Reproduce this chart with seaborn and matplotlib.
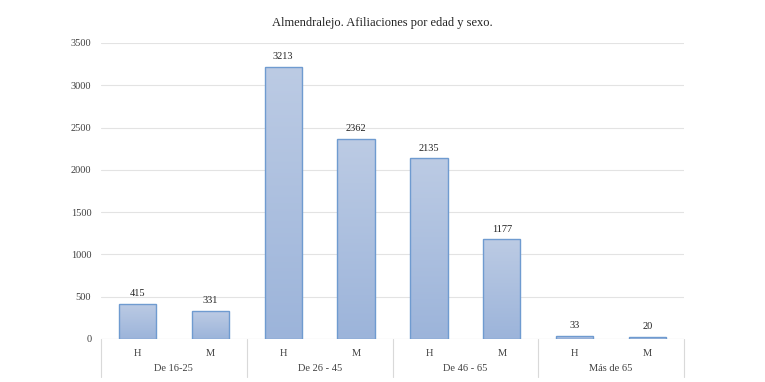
import numpy as np
import pandas as pd
import seaborn as sns
import matplotlib.pyplot as plt
from matplotlib.colors import LinearSegmentedColormap

# --- datos ---
grupos = ["De 16-25", "De 26 - 45", "De 46 - 65", "Más de 65"]
sexos = ["H", "M"]
afiliaciones = [415, 331, 3213, 2362, 2135, 1177, 33, 20]

df = pd.DataFrame({
    "grupo": np.repeat(grupos, 2),
    "sexo": sexos * len(grupos),
    "valor": afiliaciones,
})
df["clave"] = df["grupo"] + "|" + df["sexo"]

sns.set_style("white")
plt.rcParams["font.family"] = ["Liberation Serif", "DejaVu Serif"]

fig = plt.figure(figsize=(7.65, 3.82), dpi=100)
ax = fig.add_axes([101 / 765, 1 - 339 / 382, (684 - 101) / 765, (339 - 43) / 382])

sns.barplot(data=df, x="clave", y="valor", order=df["clave"], color="#aabfdf",
            width=0.51, edgecolor="#6f9bd0", linewidth=1.0, ax=ax, zorder=3)

# degradado en las barras
cmap = LinearSegmentedColormap.from_list("azul", ["#9cb4da", "#bccbe4"])
grad = np.linspace(0, 1, 256).reshape(-1, 1)
for p in ax.patches:
    x0, y0 = p.get_x(), p.get_y()
    w, h = p.get_width(), p.get_height()
    im = ax.imshow(grad, extent=[x0, x0 + w, y0, y0 + h], origin="lower",
                   cmap=cmap, aspect="auto", zorder=3.5)
    im.set_clip_path(p)
    p.set_facecolor("none")
    p.set_zorder(4)

ax.set_xlim(-0.5, len(df) - 0.5)
ax.set_ylim(0, 3500)
ax.set_yticks(range(0, 3501, 500))
ax.tick_params(axis="y", labelsize=7.5, length=0, pad=7, labelcolor="#404040")
ax.yaxis.grid(True, color="#e3e3e3", linewidth=0.8, zorder=0)
for s in ax.spines.values():
    s.set_visible(False)
ax.axhline(0, color="#d9d9d9", linewidth=0.8, zorder=2)

# etiquetas de valor
for i, v in enumerate(afiliaciones):
    ax.text(i, v + 70, str(v), ha="center", va="bottom", fontsize=7.5, color="#222222")

# eje de categorías
ax.set_xticks(range(len(df)))
ax.set_xticklabels(df["sexo"], fontsize=7.5, color="#404040")
ax.tick_params(axis="x", length=0, pad=7)
ax.set_xlabel("")
ax.set_ylabel("")

for j, g in enumerate(grupos):
    ax.text(2 * j + 0.5, -345, g, ha="center", va="center", fontsize=7.5,
            color="#404040", clip_on=False)
for k in range(len(grupos) + 1):
    ax.plot([2 * k - 0.5, 2 * k - 0.5], [0, -450], color="#d9d9d9",
            linewidth=0.8, clip_on=False)

fig.suptitle("Almendralejo. Afiliaciones por edad y sexo.", y=0.955, fontsize=9,
             color="#222222")

fig.savefig("out.png", dpi=100)
